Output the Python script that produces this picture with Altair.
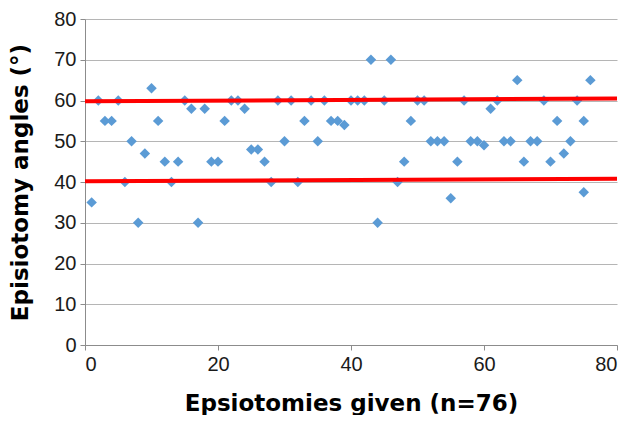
import altair as alt
import pandas as pd

idx = list(range(1, 76)) + [75, 76]
angles = [35, 60, 55, 55, 60, 40, 50, 30, 47, 63,
          55, 45, 40, 45, 60, 58, 30, 58, 45, 45,
          55, 60, 60, 58, 48, 48, 45, 40, 60, 50,
          60, 40, 55, 60, 50, 60, 55, 55, 54, 60,
          60, 60, 70, 30, 60, 70, 40, 45, 55, 60,
          60, 50, 50, 50, 36, 45, 60, 50, 50, 49,
          58, 60, 50, 50, 65, 45, 50, 50, 60, 45,
          55, 47, 50, 60, 55, 37.5, 65]

line_names = ["upper", "upper", "lower", "lower"]
line_x = [0, 80, 0, 80]
line_y = [59.8, 60.5, 40.2, 40.8]

pts = pd.DataFrame({"x": idx, "y": angles})
lines = pd.DataFrame({"name": line_names, "x": line_x, "y": line_y})

xscale = alt.Scale(domain=[0, 80], nice=False)
yscale = alt.Scale(domain=[0, 80], nice=False)

points = alt.Chart(pts).mark_point(
    shape="diamond", filled=True, size=110, color="#5B9BD5", opacity=1
).encode(
    x=alt.X("x:Q", scale=xscale,
            axis=alt.Axis(title="Epsiotomies given (n=76)", values=[0, 20, 40, 60, 80],
                          grid=False, tickSize=5, labelPadding=4, titlePadding=18)),
    y=alt.Y("y:Q", scale=yscale,
            axis=alt.Axis(title="Episiotomy angles (°)", values=list(range(0, 81, 10)),
                          grid=True, tickSize=5, labelPadding=4, titlePadding=21)),
)

redlines = alt.Chart(lines).mark_line(color="#FF0000", strokeWidth=4).encode(
    x=alt.X("x:Q", scale=xscale),
    y=alt.Y("y:Q", scale=yscale),
    detail="name:N",
)

chart = alt.layer(points, redlines).properties(
    width=532, height=326,
    autosize=alt.AutoSizeParams(type="none"),
    padding={"left": 77, "top": 11, "right": 5, "bottom": 70},
).configure_view(stroke=None).configure_axis(
    labelFont="Liberation Sans", labelFontSize=20, labelColor="#1a1a1a",
    titleFont="DejaVu Sans", titleFontSize=23, titleFontWeight="bold", titleColor="#000000",
    domainColor="#8c8c8c", tickColor="#8c8c8c", gridColor="#b5b5b5", gridWidth=1,
)

chart.save("out.html", embed_options={"renderer": "svg", "actions": False})
